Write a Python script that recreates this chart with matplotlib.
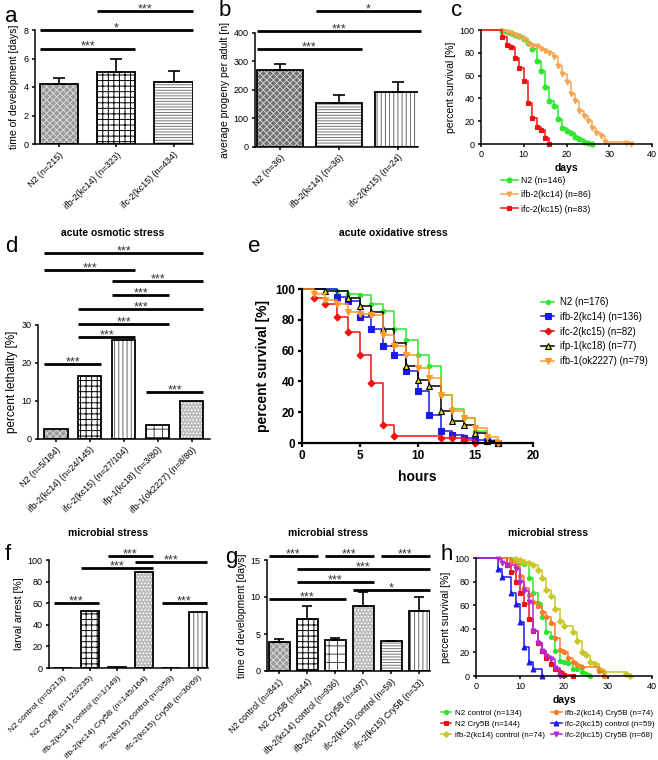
import matplotlib
matplotlib.use('Agg')
import matplotlib.pyplot as plt

# ---- data ----
# a: time of development
a_labels = ['N2 (n=215)', 'ifb-2(kc14) (n=323)', 'ifc-2(kc15) (n=434)']
a_mean = [4.2, 5.05, 4.35]
a_err = [0.45, 0.95, 0.75]
a_sig = [(0, 1, 6.7, '***'), (0, 2, 8.0, '*'), (1, 2, 9.35, '***')]

# b: progeny
b_labels = ['N2 (n=36)', 'ifb-2(kc14) (n=36)', 'ifc-2(kc15) (n=24)']
b_mean = [270, 155, 192]
b_err = [22, 27, 37]
b_sig = [(0, 1, 342, '***'), (0, 2, 408, '***'), (1, 2, 478, '*')]

# c: lifespan
c_n2_t = [0, 5, 6, 7, 8, 9, 10, 11, 12, 13, 14, 15, 16, 17, 18, 19, 20, 21, 22, 23, 24, 25, 26]
c_n2_s = [100, 99, 98, 97, 96, 95, 92, 89, 83, 73, 64, 50, 38, 33, 22, 14, 11, 10, 6, 4, 2, 1, 0]
c_ifb2_t = [0, 5, 6, 7, 8, 9, 10, 11, 12, 13, 14, 15, 16, 17, 18, 19, 20, 21, 22, 23, 24, 25, 26, 27, 28, 29, 34, 35]
c_ifb2_s = [100, 99, 98, 97, 96, 94, 92, 88, 86, 86, 83, 82, 80, 76, 68, 61, 54, 44, 38, 29, 25, 20, 14, 10, 7, 2, 1, 0]
c_ifc2_t = [0, 5, 6, 7, 8, 9, 10, 11, 12, 13, 14, 15, 16]
c_ifc2_s = [100, 94, 87, 85, 75, 67, 55, 36, 23, 15, 12, 5, 0]

# d: acute osmotic stress
d_labels = ['N2 (n=5/184)', 'ifb-2(kc14) (n=24/145)', 'ifc-2(kc15) (n=27/104)',
            'ifp-1(kc18) (n=3/80)', 'ifb-1(ok2227) (n=8/80)']
d_mean = [2.7, 16.6, 26.0, 3.75, 10.0]
d_sig = [(0, 4, 49, '***'), (0, 2, 44.5, '***'), (2, 4, 41.6, '***'), (2, 3, 37.9, '***'),
         (1, 4, 34.2, '***'), (1, 3, 30.3, '***'), (1, 2, 26.8, '***'), (0, 1, 19.7, '***'),
         (3, 4, 12.4, '***')]

# e: acute oxidative stress
e_n2_t = [0, 3, 4, 5, 6, 7, 8, 9, 10, 11, 12, 13, 14, 15, 16, 17]
e_n2_s = [100, 99, 97, 96, 90, 86, 74, 67, 57, 50, 31, 22, 16, 8, 2, 0]
e_ifb2_t = [0, 3, 4, 5, 6, 7, 8, 9, 10, 11, 12, 13, 14, 15, 16, 17]
e_ifb2_s = [100, 95, 92, 82, 74, 63, 57, 47, 34, 18, 8, 5, 3, 2, 1, 0]
e_ifc2_t = [0, 1, 2, 3, 4, 5, 6, 7, 8, 12, 13, 14, 15]
e_ifc2_s = [100, 94, 90, 82, 72, 57, 39, 12, 4.5, 3.5, 3, 2, 0]
e_ifp1_t = [0, 2, 4, 5, 6, 7, 8, 9, 10, 11, 12, 13, 14, 15, 16, 17]
e_ifp1_s = [100, 99, 94, 89, 85, 74, 65, 50, 41, 37, 21, 14, 12, 6.5, 1.5, 0]
e_ifb1_t = [0, 1, 2, 3, 4, 5, 6, 7, 8, 9, 10, 11, 12, 13, 14, 15, 16, 17]
e_ifb1_s = [100, 97, 93, 90, 85, 84, 83, 70, 63, 57, 49, 42, 31, 21, 16, 10, 4, 0]

# f: larval arrest
fg_names = ['N2 control', 'N2 Cry5B', 'ifb-2(kc14) control', 'ifb-2(kc14) Cry5B',
            'ifc-2(kc15) control', 'ifc-2(kc15) Cry5B']
f_n = ['(n=0/213)', '(n=123/235)', '(n=1/149)', '(n=145/164)', '(n=0/59)', '(n=36/69)']
f_mean = [0, 52.5, 1, 88.5, 0, 52]
f_sig = [(0, 1, 60, '***'), (2, 3, 103.7, '***'), (1, 3, 92.6, '***'), (3, 5, 98, '***'),
         (4, 5, 60, '***')]

# g: time of development under Cry5B
g_n = ['(n=841)', '(n=644)', '(n=936)', '(n=497)', '(n=59)', '(n=33)']
g_mean = [3.9, 7.0, 4.15, 8.8, 4.0, 8.1]
g_err = [0.4, 1.8, 0.35, 1.9, 0.0, 1.9]
g_sig = [(0, 1, 15.5, '***'), (2, 3, 15.5, '***'), (4, 5, 15.5, '***'), (1, 5, 13.8, '***'),
         (1, 3, 12.0, '***'), (3, 5, 10.9, '*'), (0, 2, 9.7, '***')]

# h: lifespan under Cry5B
h_n2c_t = [0, 8, 10, 11, 12, 13, 14, 15, 16, 17, 18, 19, 20, 21, 22, 23, 24, 25, 26]
h_n2c_s = [100, 99, 97, 95, 83, 70, 62, 50, 37, 33, 21, 13, 12, 11, 6, 6, 3, 2, 0]
h_n2cry_t = [0, 7, 8, 9, 10, 11, 12, 13, 14, 15, 16, 17, 18, 19, 20, 22]
h_n2cry_s = [100, 94, 88, 80, 70, 61, 48, 38, 28, 21, 15, 10, 6, 3, 1, 0]
h_ifbc_t = [0, 9, 10, 11, 12, 13, 14, 15, 16, 17, 18, 19, 20, 22, 23, 24, 25, 26, 27, 28, 29, 34, 35]
h_ifbc_s = [100, 99, 98, 97, 96, 94, 90, 83, 73, 68, 57, 47, 42, 37, 30, 20, 18, 12, 10, 6, 3, 2, 0]
h_ifbcry_t = [0, 8, 9, 10, 11, 12, 13, 14, 15, 16, 17, 18, 19, 20, 21, 22, 23, 24, 28, 29]
h_ifbcry_s = [100, 97, 94, 85, 75, 69, 63, 59, 54, 50, 45, 32, 22, 20, 15, 12, 9, 8, 4, 0]
h_ifcc_t = [0, 5, 6, 8, 9, 10, 11, 12, 13, 15]
h_ifcc_s = [100, 91, 84, 70, 61, 46, 25, 12, 6, 0]
h_ifccry_t = [0, 5, 6, 7, 9, 10, 11, 12, 13, 14, 15, 16, 17, 18, 19]
h_ifccry_s = [100, 99, 96, 94, 91, 80, 72, 63, 38, 28, 21, 17, 14, 7, 0]

# ---- style ----
plt.rcParams['font.family'] = ['Liberation Sans', 'DejaVu Sans']
plt.rcParams['hatch.linewidth'] = 0.7
plt.rcParams['axes.linewidth'] = 1.1
plt.rcParams['xtick.major.width'] = 1.1
plt.rcParams['ytick.major.width'] = 1.1
plt.rcParams['xtick.major.size'] = 2.5
plt.rcParams['ytick.major.size'] = 2.5
plt.rcParams['xtick.major.pad'] = 2
plt.rcParams['ytick.major.pad'] = 2

W, H = 658, 760
fig = plt.figure(figsize=(W / 100, H / 100), dpi=100)

GREEN = '#2ee62e'
RED = '#ee1111'
BLUE = '#1a1aee'
ORANGE = '#ff9a2a'
LORANGE = '#f5a450'

# bar fill styles: (face colour, hatch colour, hatch)
GREYCHK = ('#9a9a9a', '#d8d8d8', 'xxxxx')
COARSE = ('white', 'black', '+++')
HLINES = ('white', '#777777', '------')
VLINES = ('white', '#666666', '||||')
GRID = ('white', '#444444', '++')
DOTS = ('#bdbdbd', '#ffffff', '.....')
DARKCHK = ('#707070', '#cfcfcf', 'xxxxx')


def px_axes(left, top, right, bottom):
    return fig.add_axes([left / W, 1 - bottom / H, (right - left) / W, (bottom - top) / H])


def prism(ax):
    ax.spines['top'].set_visible(False)
    ax.spines['right'].set_visible(False)
    ax.tick_params(direction='out', labelsize=6.5)


def bar_panel(ax, labels, means, errs, styles, width, xlim, ylim, yticks, ylabel, sigs,
              capsize=4.5, star_fs=9, ylabel_fs=7.5, xlab_fs=6.5):
    prism(ax)
    n = len(means)
    for i in range(n):
        fc, hc, h = styles[i]
        ax.bar(i, means[i], width, color=fc, edgecolor=hc, hatch=h, linewidth=0)
        ax.bar(i, means[i], width, fill=False, edgecolor='black', linewidth=1.3)
    if errs is not None:
        ax.errorbar(range(n), means, yerr=[[0] * n, errs], fmt='none', ecolor='black',
                    elinewidth=1.2, capsize=capsize, capthick=1.2)
    for i1, i2, y, s in sigs:
        ax.plot([i1 - width / 2, i2 + width / 2], [y, y], color='black', lw=2,
                clip_on=False, solid_capstyle='butt')
        ax.annotate(s, ((i1 + i2) / 2, y), xytext=(0, -1), textcoords='offset points',
                    ha='center', va='baseline', fontsize=star_fs, color='#333333',
                    annotation_clip=False)
    ax.set_xlim(*xlim)
    ax.set_ylim(*ylim)
    ax.set_yticks(yticks)
    ax.set_xticks(range(n))
    ax.set_xticklabels(labels, rotation=45, ha='right', rotation_mode='anchor', fontsize=xlab_fs)
    ax.set_ylabel(ylabel, fontsize=ylabel_fs, labelpad=3)


def km(ax, t, s, color, marker, label, ms=3.5, mfc=None, lw=1.1):
    ax.plot(t, s, drawstyle='steps-post', color=color, lw=lw, marker=marker, ms=ms,
            mfc=mfc if mfc else color, mec=color if mfc is None else 'black', mew=0.8,
            markevery=slice(1, None), label=label, clip_on=False)


# ---- a ----
ax = px_axes(35, 30, 193, 144)
bar_panel(ax, a_labels, a_mean, a_err, [GREYCHK, COARSE, HLINES], 0.67, (-0.42, 2.34),
          (0, 8), [0, 2, 4, 6, 8], 'time of development [days]', a_sig)

# ---- b ----
ax = px_axes(255, 33, 418, 146.7)
bar_panel(ax, b_labels, b_mean, b_err, [DARKCHK, HLINES, VLINES], 0.78, (-0.42, 2.34),
          (0, 400), [0, 100, 200, 300, 400], 'average progeny per adult [n]', b_sig)

# ---- c ----
ax = px_axes(481, 30, 652, 144)
prism(ax)
km(ax, c_n2_t, c_n2_s, GREEN, 'o', 'N2 (n=146)')
km(ax, c_ifb2_t, c_ifb2_s, LORANGE, 'v', 'ifb-2(kc14) (n=86)')
km(ax, c_ifc2_t, c_ifc2_s, RED, 's', 'ifc-2(kc15) (n=83)')
ax.set_xlim(0, 40)
ax.set_ylim(0, 100)
ax.set_xticks([0, 10, 20, 30, 40])
ax.set_yticks([0, 20, 40, 60, 80, 100])
ax.set_xlabel('days', fontsize=7.5, fontweight='bold', labelpad=3)
ax.set_ylabel('percent survival [%]', fontsize=7.5, labelpad=3)
ax.legend(loc='upper left', bbox_to_anchor=(501 / W, 1 - 176 / H), bbox_transform=fig.transFigure,
          frameon=False, fontsize=6.3, handlelength=1.9, handletextpad=0.4, labelspacing=0.6,
          borderpad=0, borderaxespad=0)

# ---- d ----
ax = px_axes(38, 325, 210, 439)
bar_panel(ax, d_labels, d_mean, None, [GREYCHK, COARSE, VLINES, GRID, DOTS], 0.68,
          (-0.53, 4.54), (0, 30), [0, 10, 20, 30], 'percent lethality [%]', d_sig,
          ylabel_fs=8.5)

# ---- e ----
ax = px_axes(302, 289, 533, 443)
ax.spines['top'].set_visible(False)
ax.spines['right'].set_visible(False)
for sp in ('left', 'bottom'):
    ax.spines[sp].set_linewidth(1.6)
ax.tick_params(direction='out', labelsize=8.5, width=1.6, length=3)
km(ax, e_n2_t, e_n2_s, GREEN, 'o', 'N2 (n=176)', ms=3)
km(ax, e_ifb2_t, e_ifb2_s, BLUE, 's', 'ifb-2(kc14) (n=136)', ms=4)
km(ax, e_ifc2_t, e_ifc2_s, RED, 'D', 'ifc-2(kc15) (n=82)', ms=3.5)
km(ax, e_ifp1_t, e_ifp1_s, 'black', '^', 'ifp-1(kc18) (n=77)', ms=4.5, mfc='#e6d800')
km(ax, e_ifb1_t, e_ifb1_s, ORANGE, 'v', 'ifb-1(ok2227) (n=79)', ms=4)
ax.set_xlim(0, 20)
ax.set_ylim(0, 100)
ax.set_xticks([0, 5, 10, 15, 20])
ax.set_yticks([0, 20, 40, 60, 80, 100])
for lab in ax.get_xticklabels() + ax.get_yticklabels():
    lab.set_fontweight('bold')
ax.set_xlabel('hours', fontsize=10, fontweight='bold', labelpad=6)
ax.set_ylabel('percent survival [%]', fontsize=10, fontweight='bold', labelpad=4)
ax.legend(loc='upper left', bbox_to_anchor=(541 / W, 1 - 297 / H), bbox_transform=fig.transFigure,
          frameon=False, fontsize=6.9, handlelength=1.4, handletextpad=0.6, labelspacing=0.5,
          borderpad=0, borderaxespad=0)

# ---- f ----
ax = px_axes(49, 560, 208, 668)
bar_panel(ax, [a + ' ' + b for a, b in zip(fg_names, f_n)], f_mean, None,
          [GREYCHK, COARSE, GRID, DOTS, HLINES, VLINES], 0.65, (-0.52, 5.37),
          (0, 100), [0, 20, 40, 60, 80, 100], 'larval arrest [%]', f_sig, xlab_fs=6)

# ---- g ----
ax = px_axes(267, 560, 430, 671)
bar_panel(ax, [a + ' ' + b for a, b in zip(fg_names, g_n)], g_mean, g_err,
          [GREYCHK, COARSE, GRID, DOTS, HLINES, VLINES], 0.75, (-0.43, 5.39),
          (0, 15), [0, 5, 10, 15], 'time of development [days]', g_sig, capsize=3.5,
          xlab_fs=6.2)

# ---- h ----
ax = px_axes(476, 558, 652, 676)
prism(ax)
km(ax, h_n2c_t, h_n2c_s, GREEN, 'o', 'N2 control (n=134)', ms=3)
km(ax, h_n2cry_t, h_n2cry_s, RED, 's', 'N2 Cry5B (n=144)', ms=3.5)
km(ax, h_ifbc_t, h_ifbc_s, '#c8c82a', 'D', 'ifb-2(kc14) control (n=74)', ms=3)
km(ax, h_ifbcry_t, h_ifbcry_s, '#ff7a2a', 'o', 'ifb-2(kc14) Cry5B (n=74)', ms=3)
km(ax, h_ifcc_t, h_ifcc_s, BLUE, '^', 'ifc-2(kc15) control (n=59)', ms=3.5)
km(ax, h_ifccry_t, h_ifccry_s, '#b428d8', 'v', 'ifc-2(kc15) Cry5B (n=68)', ms=3.5)
ax.set_xlim(0, 40)
ax.set_ylim(0, 100)
ax.set_xticks([0, 10, 20, 30, 40])
ax.set_yticks([0, 20, 40, 60, 80, 100])
ax.set_xlabel('days', fontsize=7.5, fontweight='bold', labelpad=3)
ax.set_ylabel('percent survival [%]', fontsize=7.5, labelpad=3)
ax.legend(loc='upper left', bbox_to_anchor=(441 / W, 1 - 709 / H), bbox_transform=fig.transFigure,
          ncol=2, frameon=False, fontsize=5.8, handlelength=1.3, handletextpad=0.4,
          labelspacing=0.45, columnspacing=0.8, borderpad=0, borderaxespad=0)

# ---- titles and panel letters ----
for x, y, t in [(113, 233, 'acute osmotic stress'), (393, 233, 'acute oxidative stress'),
                (108, 533, 'microbial stress'), (328, 533, 'microbial stress'),
                (548, 533, 'microbial stress')]:
    fig.text(x / W, 1 - y / H, t, ha='center', va='center', fontsize=7.5, fontweight='bold')

for x, y, t in [(5, 16, 'a'), (219, 10, 'b'), (451, 10, 'c'), (5, 247, 'd'), (248, 247, 'e'),
                (5, 555, 'f'), (225, 558, 'g'), (441, 555, 'h')]:
    fig.text(x / W, 1 - y / H, t, ha='left', va='center', fontsize=16)

fig.savefig('out.png', dpi=100)
